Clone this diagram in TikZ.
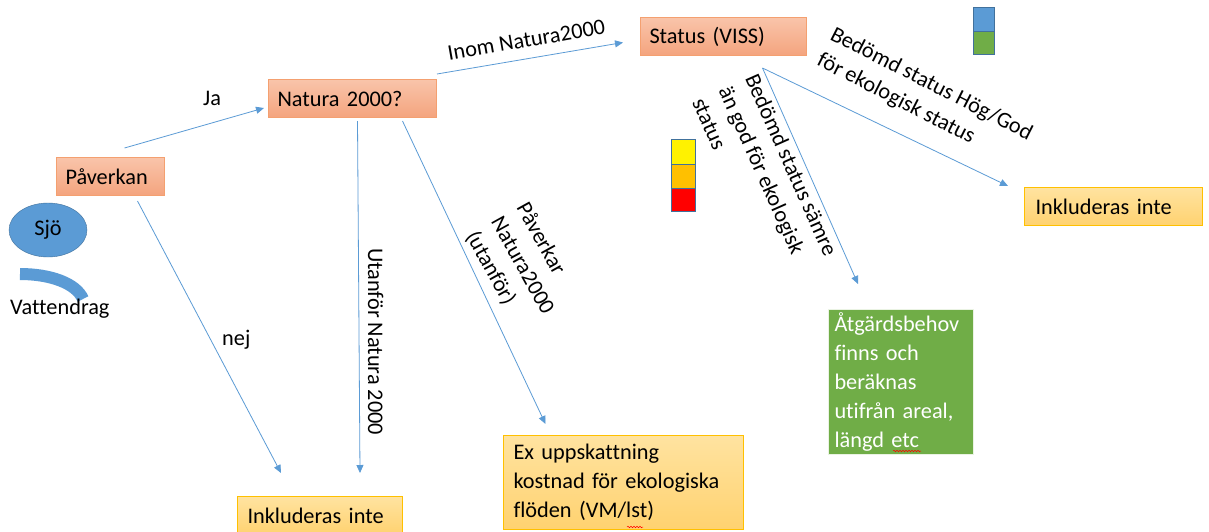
\documentclass[tikz,border=0pt]{standalone}
\usepackage{fontspec}
\setmainfont{Carlito}[Ligatures=CommonOff]
\usepackage{tikz}
\usepackage{xcolor}
\usetikzlibrary{arrows.meta,shapes.geometric,decorations.pathmorphing}
\definecolor{flowblue}{HTML}{5B9BD5}
\definecolor{edgeblue}{HTML}{41719C}
\definecolor{salmontop}{HTML}{F9C4AA}
\definecolor{salmonbot}{HTML}{F4A47E}
\definecolor{salmonline}{HTML}{F4A070}
\definecolor{yellowtop}{HTML}{FFE3A0}
\definecolor{yellowbot}{HTML}{FFD270}
\definecolor{yellowline}{HTML}{FFC000}
\definecolor{grassgreen}{HTML}{70AD47}
\tikzstyle{salmonbox}=[draw=salmonline, line width=1pt, top color=salmontop, bottom color=salmonbot, anchor=north west, inner xsep=9pt, inner ysep=0pt, align=left, minimum height=38pt]
\tikzstyle{yellowbox}=[draw=yellowline, line width=1pt, top color=yellowtop, bottom color=yellowbot, anchor=north west, inner xsep=10pt, inner ysep=0pt, align=left, minimum height=38pt]
\tikzstyle{greenbox}=[fill=grassgreen, draw=white!85!grassgreen, line width=1pt, text=white, anchor=north west, inner xsep=6pt, inner ysep=0pt, align=left]
\tikzstyle{flow}=[line width=0.8pt, flowblue, -{Triangle[length=8pt,width=7pt]}]
\tikzstyle{lbl}=[inner sep=0pt, align=left]
\tikzstyle{swatch}=[draw=edgeblue, line width=0.5pt]
\tikzstyle{spellmark}=[red, line width=0.5pt, decorate, decoration={snake, amplitude=0.8pt, segment length=3pt}]

\begin{document}
\begin{tikzpicture}[x=1pt, y=-1pt, every node/.style={font=\fontsize{22.3}{29}\selectfont}]
      \useasboundingbox (0,0) rectangle (1209,531);
      \fill[white] (0,0) rectangle (1209,531);
      \clip (0,0) rectangle (1209,531);
      % boxes
      \node[salmonbox, text width=90pt] (pav) at (56,157) {Påverkan};
      \node[salmonbox, text width=150pt] (nat) at (268,79) {Natura 2000?};
      \node[salmonbox, text width=148pt] (viss) at (640,17) {Status (VISS)};
      \node[yellowbox, text width=156pt, inner xsep=11pt] (inkr) at (1024,187) {Inkluderas inte};
      \node[yellowbox, text width=145pt] (inkb) at (237,496) {Inkluderas inte};
      \node[yellowbox, text width=220pt, minimum height=94pt] (ex) at (503,435) {Ex uppskattning\\kostnad för ekologiska\\flöden (VM/lst)};
      \node[greenbox, text width=133pt, minimum height=145pt] (atg) at (828,309) {Åtgärdsbehov\\finns och\\beräknas\\utifrån areal,\\längd etc};
      % legend
      \node[ellipse, fill=flowblue, draw=edgeblue, minimum width=78pt, minimum height=54pt, inner sep=0pt] (sjo) at (48,230) {Sjö};
      \draw[flowblue, line width=12pt] (20,274) .. controls (50,274) and (76,283) .. (83,299);
      \node[lbl, anchor=base west] (vatt) at (10,314) {Vattendrag};
      \draw[swatch, fill=yellow] (671,139) rectangle (695,164);
      \draw[swatch, fill=yellowline] (671,164) rectangle (695,188);
      \draw[swatch, fill=red] (671,188) rectangle (695,211);
      \draw[swatch, fill=flowblue] (973,7) rectangle (994,31);
      \draw[swatch, fill=grassgreen] (973,31) rectangle (994,54);
      % arrows
      \coordinate (vissfoot) at ([xshift=39pt,yshift=-12pt]viss.south);
      \draw[flow] ([xshift=14pt,yshift=9pt]pav.north) -- ([xshift=-4pt,yshift=10pt]nat.south west);
      \draw[flow] ([xshift=27pt,yshift=-5pt]pav.south) -- ([xshift=-39pt,yshift=23pt]inkb.north);
      \draw[flow] ([xshift=5pt,yshift=-3pt]nat.south) -- ([xshift=40pt,yshift=23pt]inkb.north);
      \draw[flow] ([xshift=50pt,yshift=-3pt]nat.south) -- ([xshift=-78pt,yshift=11pt]ex.north);
      \draw[flow] ([yshift=5pt]nat.north east) -- ([xshift=-17pt,yshift=-6pt]viss.west);
      \draw[flow] (vissfoot) -- ([xshift=-43pt,yshift=25pt]atg.north);
      \draw[flow] (vissfoot) -- ([xshift=-16pt,yshift=1pt]inkr.north west);
      % labels
      \node[lbl, anchor=base west] (ja) at (203,105) {Ja};
      \node[lbl, anchor=base west] (nej) at (222,345) {nej};
      \node[lbl, anchor=base west, rotate=10] (inom) at (449,61) {Inom Natura2000};
      \node[lbl, anchor=base west, rotate=-90] (utanfor) at (368,248) {Utanför Natura 2000};
      \node[lbl, anchor=north west, rotate=-61] (paverkar) at (530,200) {Påverkar\\Natura2000\\(utanför)};
      \node[lbl, anchor=north west, rotate=-66] (samre) at (759,72) {Bedömd status sämre\\än god för ekologisk\\status};
      \node[lbl, anchor=north west, rotate=-27] (hoggod) at (836,25) {Bedömd status Hög/God\\för ekologisk status};
      % spelling marks
      \draw[spellmark] (627,527) -- (643,527);
      \draw[spellmark] (893,451) -- (921,451);
    \end{tikzpicture}
\end{document}
